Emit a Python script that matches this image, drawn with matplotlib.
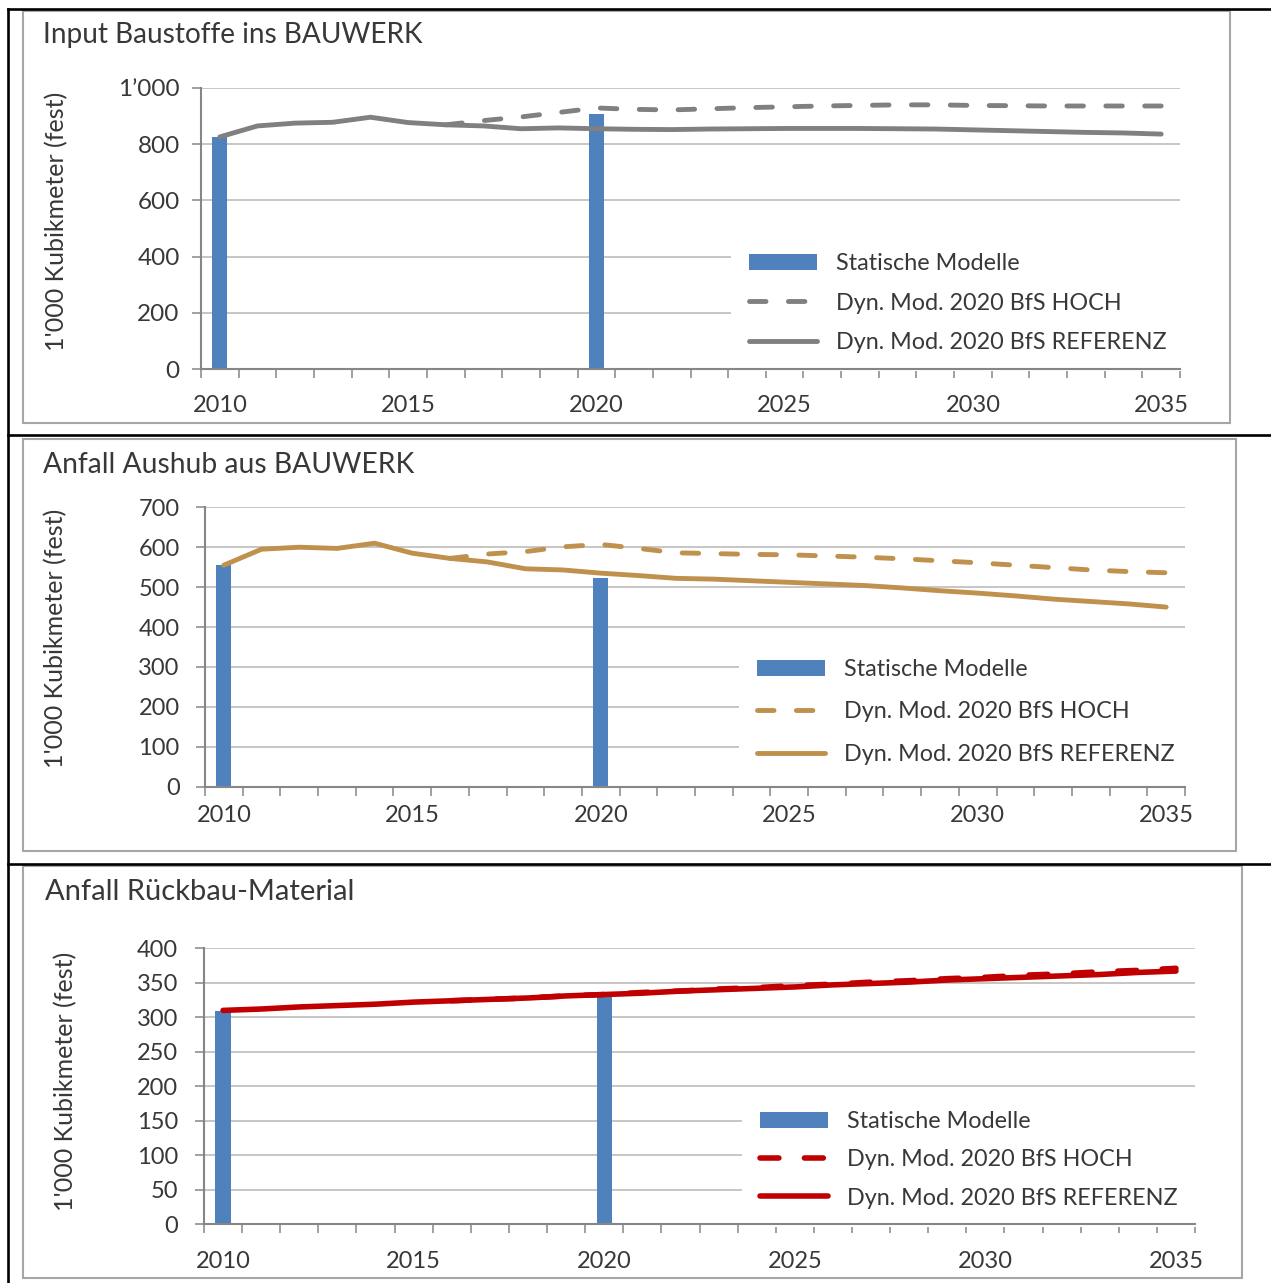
import numpy as np
import matplotlib

matplotlib.use('Agg')
import matplotlib.pyplot as plt
from matplotlib.lines import Line2D
from matplotlib.patches import Rectangle

plt.rcParams['font.family'] = ['Lato', 'DejaVu Sans']

W, H = 1271, 1283
TXT = '#383838'
AXC = '#868686'
GRID = '#C6C6C6'
BLUE = '#4F81BD'

years = list(range(2010, 2036))
static_years = [2010, 2020]
hoch_years = list(range(2016, 2036))
year_labels = ['2010', '2015', '2020', '2025', '2030', '2035']

# Input Baustoffe ins BAUWERK
input_static = [825, 909]
input_ref = [826, 865, 875, 878, 896, 877, 869, 865, 855, 858, 855, 853, 852,
             854, 855, 856, 856, 856, 855, 854, 851, 848, 845, 842, 840, 836]
input_hoch = [869, 884, 897, 913, 929, 924, 922, 926, 930, 933, 936, 938, 940,
              940, 938, 937, 936, 936, 936, 936]

# Anfall Aushub aus BAUWERK
aushub_static = [555, 524]
aushub_ref = [555, 595, 600, 597, 610, 585, 572, 563, 546, 543, 535, 529, 522,
              520, 516, 512, 508, 504, 498, 491, 485, 478, 470, 464, 458, 450]
aushub_hoch = [572, 583, 589, 601, 607, 597, 586, 584, 582, 581, 578, 575, 571,
               566, 561, 555, 549, 543, 539, 536]

# Anfall Rückbau-Material
rueck_static = [309, 335]
rueck_ref = [310, 312, 315, 317, 319, 322, 324, 326, 328, 331, 333, 335, 338,
             340, 342, 344, 347, 349, 351, 354, 356, 358, 360, 362, 365, 367]
rueck_hoch = [324, 326, 328, 331, 333, 336, 338, 341, 343, 346, 348, 351, 353,
              356, 358, 361, 363, 366, 368, 371]

panels = [
    dict(title='Input Baustoffe ins BAUWERK', static=input_static, ref=input_ref,
         hoch=input_hoch, color='#808080', lw=3.5, ymax=1000, ystep=200,
         ax_px=(201, 1180, 88, 369), frame=(23, 1230, 11, 423),
         title_xy=(43, 35), title_size=20.2, ylab_xy=(57, 221),
         leg_xy=(731, 303), ytick_size=17.5, ypad=9, xpad=19, spacing=0.79,
         yfmt=lambda v: '1\u2019000' if v == 1000 else str(v)),
    dict(title='Anfall Aushub aus BAUWERK', static=aushub_static, ref=aushub_ref,
         hoch=aushub_hoch, color='#C0904D', lw=3.5, ymax=700, ystep=100,
         ax_px=(205, 1185, 507.3, 786.7), frame=(23, 1236, 439, 851),
         title_xy=(43, 465), title_size=20.3, ylab_xy=(56, 638),
         leg_xy=(739, 712), ytick_size=17, ypad=12, xpad=13, spacing=0.92,
         yfmt=str),
    dict(title='Anfall Rückbau-Material', static=rueck_static, ref=rueck_ref,
         hoch=rueck_hoch, color='#C00000', lw=4.0, ymax=400, ystep=50,
         ax_px=(204, 1195, 948.3, 1224.3), frame=(23, 1242, 866, 1278),
         title_xy=(45, 892), title_size=21, ylab_xy=(66, 1081),
         leg_xy=(742, 1160), ytick_size=17, ypad=12.5, xpad=19, spacing=0.73,
         yfmt=str),
]

fig = plt.figure(figsize=(W / 100, H / 100), dpi=100)


def fx(px):
    return px / W


def fy(py):
    return 1 - py / H


# table borders around the three charts
for y in (9, 435, 864):
    fig.add_artist(Line2D([fx(8), 1], [fy(y), fy(y)], color='black', lw=1.9,
                          transform=fig.transFigure))
fig.add_artist(Line2D([fx(8), fx(8)], [fy(9), 0], color='black', lw=1.9,
                      transform=fig.transFigure))

idx = {y: i for i, y in enumerate(years)}

for p in panels:
    l, r, t, b = p['ax_px']
    fl, fr, ft, fb = p['frame']
    fig.add_artist(Rectangle((fx(fl), fy(fb)), fx(fr - fl), (fb - ft) / H,
                             fill=False, edgecolor='#A6A6A6', lw=1.5,
                             transform=fig.transFigure))
    fig.text(fx(p['title_xy'][0]), fy(p['title_xy'][1]), p['title'],
             fontsize=p['title_size'], color=TXT, ha='left', va='center')
    fig.text(fx(p['ylab_xy'][0]), fy(p['ylab_xy'][1]), "1'000 Kubikmeter (fest)",
             fontsize=18, color=TXT, rotation=90, ha='center', va='center')

    ax = fig.add_axes([fx(l), fy(b), fx(r - l), (b - t) / H])
    ax.set_facecolor('none')
    ax.set_axisbelow(True)

    xs_static = [idx[y] for y in static_years]
    xs_hoch = [idx[y] for y in hoch_years]
    bars = ax.bar(xs_static, p['static'], width=0.4, color=BLUE, zorder=2,
                  label='Statische Modelle')
    hoch, = ax.plot(xs_hoch, p['hoch'], color=p['color'], lw=p['lw'],
                    linestyle=(0, (3.4, 4.6)), dash_capstyle='round', zorder=3,
                    label='Dyn. Mod. 2020 BfS HOCH')
    ref, = ax.plot(range(len(years)), p['ref'], color=p['color'], lw=p['lw'],
                   solid_capstyle='round', zorder=3,
                   label='Dyn. Mod. 2020 BfS REFERENZ')

    ax.set_xlim(-0.5, len(years) - 0.5)
    ax.set_ylim(0, p['ymax'])
    yt = np.arange(0, p['ymax'] + 1, p['ystep'])
    ax.set_yticks(yt)
    ax.set_yticklabels([p['yfmt'](int(v)) for v in yt])
    ax.yaxis.grid(True, color=GRID, lw=1.4)

    ax.set_xticks(np.arange(-0.5, len(years), 1))
    ax.set_xticklabels([])
    ax.set_xticks([idx[int(s)] for s in year_labels], minor=True)
    ax.set_xticklabels(year_labels, minor=True)
    ax.tick_params(axis='x', which='major', direction='out', length=6.3,
                   width=1.1, color=AXC)
    ax.tick_params(axis='x', which='minor', length=0, pad=p['xpad'],
                   labelsize=17, labelcolor=TXT)
    ax.tick_params(axis='y', direction='out', length=6.3, width=1.1, color=AXC,
                   pad=p['ypad'], labelsize=p['ytick_size'], labelcolor=TXT)

    for s in ('top', 'right'):
        ax.spines[s].set_visible(False)
    for s in ('left', 'bottom'):
        ax.spines[s].set_color(AXC)
        ax.spines[s].set_linewidth(1.5)

    leg = ax.legend([bars, hoch, ref],
                    ['Statische Modelle', 'Dyn. Mod. 2020 BfS HOCH',
                     'Dyn. Mod. 2020 BfS REFERENZ'],
                    loc='center left',
                    bbox_to_anchor=(fx(p['leg_xy'][0]), fy(p['leg_xy'][1])),
                    bbox_transform=fig.transFigure, fontsize=16.8,
                    frameon=True, facecolor='white', edgecolor='none',
                    framealpha=1, fancybox=False, borderpad=0.78,
                    handlelength=2.9, handletextpad=0.82,
                    labelspacing=p['spacing'], borderaxespad=0)
    leg.set_zorder(1)
    for txt in leg.get_texts():
        txt.set_color(TXT)

fig.savefig('out.png', dpi=100)
